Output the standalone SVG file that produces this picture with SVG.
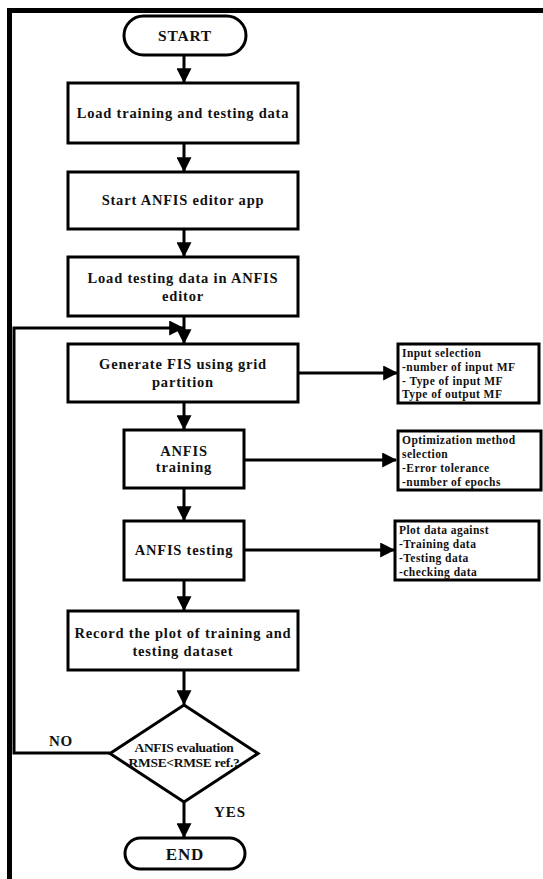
<svg xmlns="http://www.w3.org/2000/svg" width="543" height="879" viewBox="0 0 543 879">
<style>
.box{fill:#fff;stroke:#000;stroke-width:3}
.t{font-family:"Liberation Serif",serif;font-weight:bold;font-size:14.5px;fill:#111;text-anchor:middle;letter-spacing:0.8px}
.s{font-family:"Liberation Serif",serif;font-weight:bold;font-size:11.5px;fill:#111;letter-spacing:0.45px}
.d{font-size:13.5px;letter-spacing:-0.3px}
.c{fill:none;stroke:#000;stroke-width:3}
</style>
<defs>
<marker id="ah" markerWidth="5" markerHeight="5" refX="4.6" refY="2.5" orient="auto" markerUnits="strokeWidth">
<path d="M0,0 L5,2.5 L0,5 z" fill="#000"/>
</marker>
</defs>
<rect x="0" y="0" width="543" height="879" fill="#fff"/>
<g id="frame">
<line x1="7" y1="10.5" x2="543" y2="10.5" stroke="#000" stroke-width="5"/>
<line x1="9.5" y1="8" x2="9.5" y2="879" stroke="#000" stroke-width="5"/>
</g>
<g id="connectors">
<line class="c" x1="184" y1="55" x2="184" y2="82" marker-end="url(#ah)"/>
<line class="c" x1="184" y1="143" x2="184" y2="171" marker-end="url(#ah)"/>
<line class="c" x1="184" y1="229" x2="184" y2="256" marker-end="url(#ah)"/>
<line class="c" x1="184" y1="316" x2="184" y2="343" marker-end="url(#ah)"/>
<line class="c" x1="184" y1="402" x2="184" y2="429" marker-end="url(#ah)"/>
<line class="c" x1="184" y1="488" x2="184" y2="520" marker-end="url(#ah)"/>
<line class="c" x1="184" y1="580" x2="184" y2="610" marker-end="url(#ah)"/>
<line class="c" x1="184" y1="670" x2="184" y2="704" marker-end="url(#ah)"/>
<line class="c" x1="184" y1="802" x2="184" y2="837" marker-end="url(#ah)"/>
<line class="c" x1="298" y1="373" x2="397" y2="373" marker-end="url(#ah)"/>
<line class="c" x1="244" y1="460" x2="396" y2="460" marker-end="url(#ah)"/>
<line class="c" x1="244" y1="550" x2="394" y2="550" marker-end="url(#ah)"/>
<polyline class="c" points="110,753 14,753 14,328 183,328" marker-end="url(#ah)"/>
<text class="t" x="61" y="746" style="font-size:15px">NO</text>
<text class="t" x="230" y="817" style="font-size:15px;letter-spacing:1px">YES</text>
</g>
<g id="start">
<rect class="box" x="124" y="16" width="122" height="39" rx="19.5"/>
<text class="t" x="185" y="41" style="font-size:15.5px">START</text>
</g>
<g id="load-data">
<rect class="box" x="68" y="83" width="230" height="60"/>
<text class="t" x="183" y="118">Load training and testing data</text>
</g>
<g id="start-anfis">
<rect class="box" x="68" y="172" width="230" height="57"/>
<text class="t" x="183" y="205">Start ANFIS editor app</text>
</g>
<g id="load-testing">
<rect class="box" x="68" y="257" width="230" height="59"/>
<text class="t" x="183" y="283">Load testing data in ANFIS</text>
<text class="t" x="183" y="301">editor</text>
</g>
<g id="generate-fis">
<rect class="box" x="68" y="344" width="230" height="58"/>
<text class="t" x="183" y="369">Generate FIS using grid</text>
<text class="t" x="183" y="387">partition</text>
</g>
<g id="input-selection">
<rect class="box" x="398" y="344" width="141" height="59"/>
<text class="s" x="402" y="357">Input selection</text>
<text class="s" x="402" y="371">-number of input MF</text>
<text class="s" x="402" y="385">- Type of input MF</text>
<text class="s" x="402" y="398">Type of output MF</text>
</g>
<g id="anfis-training">
<rect class="box" x="124" y="430" width="120" height="58"/>
<text class="t" x="184" y="456">ANFIS</text>
<text class="t" x="184" y="472">training</text>
</g>
<g id="optimization">
<rect class="box" x="398" y="431" width="143" height="59"/>
<text class="s" x="402" y="444">Optimization method</text>
<text class="s" x="402" y="458">selection</text>
<text class="s" x="402" y="472">-Error tolerance</text>
<text class="s" x="402" y="486">-number of epochs</text>
</g>
<g id="anfis-testing">
<rect class="box" x="124" y="521" width="120" height="59"/>
<text class="t" x="184" y="555">ANFIS testing</text>
</g>
<g id="plot-data">
<rect class="box" x="395" y="521" width="144" height="59"/>
<text class="s" x="399" y="534">Plot data against</text>
<text class="s" x="399" y="548">-Training data</text>
<text class="s" x="399" y="562">-Testing data</text>
<text class="s" x="399" y="576">-checking data</text>
</g>
<g id="record-plot">
<rect class="box" x="68" y="611" width="230" height="59"/>
<text class="t" x="183" y="638">Record the plot of training and</text>
<text class="t" x="183" y="656">testing dataset</text>
</g>
<g id="evaluation">
<polygon class="box" points="184,705 258,753.5 184,802 110,753.5"/>
<text class="t d" x="184" y="752">ANFIS evaluation</text>
<text class="t d" x="184" y="767">RMSE&lt;RMSE ref.?</text>
</g>
<g id="end">
<rect class="box" x="125" y="838" width="120" height="31" rx="15.5"/>
<text class="t" x="185" y="860" style="font-size:17px">END</text>
</g>
</svg>
